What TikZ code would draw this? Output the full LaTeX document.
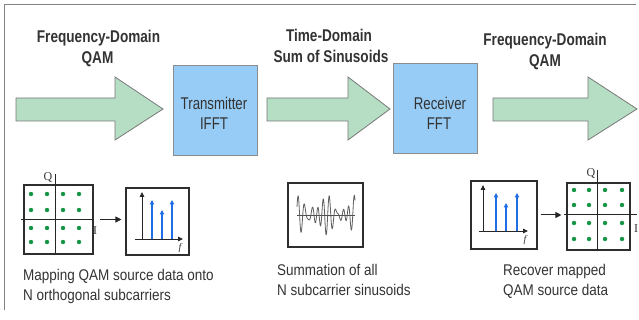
\documentclass[tikz,border=0pt]{standalone}
\usepackage{fontspec}
\setmainfont{Liberation Sans}
\newfontfamily\labelfont[FakeStretch=0.8]{Liberation Sans}
\newfontfamily\boxfont[FakeStretch=0.78]{Liberation Sans}
\newfontfamily\capfont[FakeStretch=0.87]{Liberation Sans}
\newfontfamily\axisfont{Liberation Serif}
\usetikzlibrary{arrows.meta}
\definecolor{arrowgreen}{RGB}{182,222,196}
\definecolor{arrowedge}{RGB}{120,120,120}
\definecolor{boxblue}{RGB}{150,204,245}
\definecolor{boxedge}{RGB}{140,140,140}
\definecolor{txt}{RGB}{51,51,51}
\definecolor{dotgreen}{RGB}{20,150,70}
\definecolor{spikeblue}{RGB}{30,110,230}
\definecolor{framegray}{RGB}{130,130,130}
\definecolor{wavegray}{RGB}{95,95,95}
\begin{document}
\begin{tikzpicture}[x=1pt,y=-1pt,
  every node/.style={inner sep=0pt, text=txt},
  fat/.style={fill=arrowgreen, draw=arrowedge, line width=0.8pt, line join=miter},
  dspbox/.style={draw=boxedge, fill=boxblue, line width=0.9pt, minimum width=84pt, minimum height=90pt},
  diagbox/.style={draw=txt!90!black, line width=1.1pt, fill=white},
  toplabel/.style={anchor=base, font=\labelfont\bfseries\fontsize{17}{20}\selectfont, text=txt},
  boxlabel/.style={anchor=base, font=\boxfont\fontsize{17}{20}\selectfont, text=txt},
  caption/.style={anchor=base west, font=\capfont\fontsize{15.5}{20}\selectfont, text=txt},
  axislabel/.style={font=\axisfont\fontsize{12}{13}\selectfont, text=txt},
  axisline/.style={draw=black!85, line width=0.9pt},
  axisarrow/.style={axisline, -{Triangle[length=5pt,width=4.5pt]}},
  spike/.style={draw=spikeblue, line width=1.6pt, -{Triangle[length=4.5pt,width=4.5pt]}},
  pointer/.style={draw=black!85, line width=1pt, -{Triangle[length=6pt,width=6pt]}},
  qdot/.style={fill=dotgreen}]
\useasboundingbox (0,0) rectangle (639,320);

% outer frame (top and left edges)
\draw[framegray, line width=1pt] (4,310) -- (4,5) -- (636,5);

% big flow arrows
\draw[fat] (16,98) -- (115,98) -- (115,77) -- (163,109) -- (115,140) -- (115,121) -- (16,121) -- cycle;
\draw[fat] (267,98) -- (348,98) -- (348,77) -- (390,109) -- (348,140) -- (348,121) -- (267,121) -- cycle;
\draw[fat] (493,98) -- (588,98) -- (588,77) -- (637,109) -- (588,140) -- (588,121) -- (493,121) -- cycle;

% processing boxes
\node[dspbox] (tx) at (215,110) {};
\node[boxlabel] (txa) at (214,110) {Transmitter};
\node[boxlabel] (txb) at (214,130) {IFFT};
\node[dspbox] (rx) at (435.5,108.5) {};
\node[boxlabel] (rxa) at (440,110) {Receiver};
\node[boxlabel] (rxb) at (439,130) {FFT};

% top labels
\node[toplabel] (l1a) at (98.5,42.5) {Frequency-Domain};
\node[toplabel] (l1b) at (97.5,63.5) {QAM};
\node[toplabel] (l2a) at (329,42) {Time-Domain};
\node[toplabel] (l2b) at (331,63) {Sum of Sinusoids};
\node[toplabel] (l3a) at (545,46) {Frequency-Domain};
\node[toplabel] (l3b) at (545,67) {QAM};

% ---- left: QAM constellation -> spectrum
\node[diagbox, minimum width=69pt, minimum height=69pt] (qam1) at (58.5,219.5) {};
\draw[black!85, line width=0.9pt] (55,174) -- (55,254);
\draw[black!85, line width=0.9pt] (21,219) -- (94,219);
\foreach \xx in {31,47,63,79}
  \foreach \yy in {194,210,228,242}
    \fill[qdot] (\xx,\yy) circle (2.2);
\node[axislabel] (q1) at (48,178) {Q};
\node[axislabel] (i1) at (95,231) {I};

\node[diagbox, minimum width=63pt, minimum height=67pt] (spec1) at (157.5,221.5) {};
\draw[axisarrow] (142,239) -- (142,192);
\draw[axisarrow] (135,239) -- (183,239);
\draw[spike] (152,239) -- (152,200);
\draw[spike] (162,239) -- (162,210);
\draw[spike] (172,239) -- (172,200);
\node[axislabel, font=\axisfont\itshape\fontsize{10}{12}\selectfont] (f1) at (180,248) {f};

\draw[pointer, shorten <=6pt, shorten >=4pt] (qam1.east) -- (qam1.east -| spec1.west);

\node[caption] (c1a) at (23,280) {Mapping QAM source data onto};
\node[caption] (c1b) at (23,300) {N orthogonal subcarriers};

% ---- middle: time-domain waveform
\node[diagbox, minimum width=75pt, minimum height=64pt] (wave) at (325.5,215) {};
\draw[black!70, line width=0.8pt] (297,215) -- (355,215);
\draw[wavegray, line width=0.8pt, smooth, samples=300, domain=0:58]
  plot ({297+\x}, {215 - (9*sin(\x*58) + 7*sin(\x*70+30) + 5*sin(\x*45+70))});

\node[caption] (c2a) at (277,275) {Summation of all};
\node[caption] (c2b) at (277,295) {N subcarrier sinusoids};

% ---- right: spectrum -> QAM constellation
\node[diagbox, minimum width=66pt, minimum height=68pt] (spec2) at (504,215) {};
\draw[axisarrow] (483,231) -- (483,185);
\draw[axisarrow] (479,231) -- (528,231);
\draw[spike] (496,231) -- (496,193);
\draw[spike] (506,231) -- (506,203);
\draw[spike] (517,231) -- (517,193);
\node[axislabel, font=\axisfont\itshape\fontsize{10}{12}\selectfont] (f2) at (525,240) {f};

\node[diagbox, minimum width=63pt, minimum height=67pt] (qam2) at (598.5,216.5) {};
\draw[black!85, line width=0.9pt] (597,170) -- (597,250);
\draw[black!85, line width=0.9pt] (564,214) -- (637,214);
\foreach \xx in {574,589,605,622}
  \foreach \yy in {190,205,223,239}
    \fill[qdot] (\xx,\yy) circle (2.2);
\node[axislabel] (q2) at (591,174) {Q};
\node[axislabel] (i2) at (636,229) {I};

\draw[pointer, shorten <=3pt, shorten >=5pt] (spec2.east) -- (spec2.east -| qam2.west);

\node[caption] (c3a) at (503,275) {Recover mapped};
\node[caption] (c3b) at (503,295) {QAM source data};
\end{tikzpicture}
\end{document}
